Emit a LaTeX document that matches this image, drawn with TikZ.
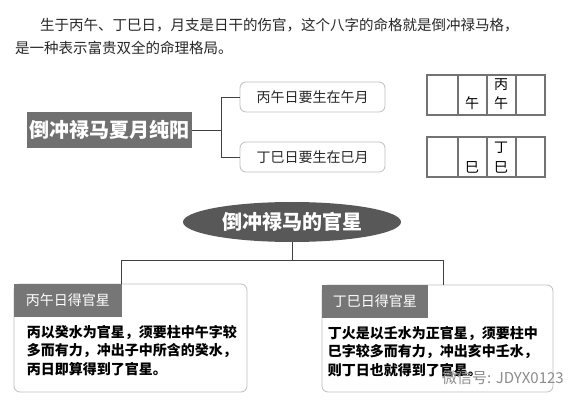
\documentclass[tikz,border=0pt]{standalone}
\usepackage{fontspec}
\setmainfont{Noto Sans CJK SC}
\usepackage{xcolor}
\usepackage{tikz}
\usetikzlibrary{positioning,shapes.geometric,calc}
\definecolor{titlegray}{RGB}{112,112,112}
\definecolor{ovalgray}{RGB}{88,88,88}
\definecolor{headgray}{RGB}{118,118,118}
\definecolor{framegray}{RGB}{190,190,190}
\definecolor{inkgray}{RGB}{40,40,40}
\tikzset{
  introtext/.style={
    inner sep=0pt,
    text=inkgray,
    font=\fontsize{14.5}{16}\selectfont
  },
  titlebox/.style={
    rectangle,
    fill=titlegray,
    text=white,
    minimum width=165pt,
    minimum height=36pt,
    inner sep=0pt,
    font=\fontsize{20}{22}\selectfont\bfseries
  },
  branchbox/.style={
    rectangle,
    rounded corners=6pt,
    draw=framegray,
    thick,
    minimum width=145pt,
    minimum height=30pt,
    inner sep=0pt,
    text=inkgray,
    font=\fontsize{14}{16}\selectfont
  },
  cellline/.style={draw=black!55, line width=1.2pt},
  celltext/.style={
    inner sep=0pt,
    text=black,
    font=\fontsize{14}{16}\selectfont
  },
  ovalbox/.style={
    ellipse,
    fill=ovalgray,
    text=white,
    minimum width=218pt,
    minimum height=40pt,
    inner sep=0pt,
    font=\fontsize{20}{22}\selectfont\bfseries
  },
  noteframe/.style={
    rectangle,
    rounded corners=6pt,
    draw=framegray,
    thick,
    inner sep=0pt
  },
  notehead/.style={
    rectangle,
    fill=headgray,
    text=white,
    minimum height=33pt,
    inner sep=0pt,
    font=\fontsize{14}{16}\selectfont
  },
  notebody/.style={
    inner sep=0pt,
    align=left,
    text=black,
    font=\fontsize{14}{18.5}\selectfont\bfseries
  },
  wmarktext/.style={
    inner sep=0pt,
    text=black!45,
    font=\fontsize{15}{16}\selectfont
  },
  link/.style={thick, black!75}
}

\begin{document}
\begin{tikzpicture}[x=1pt,y=-1pt]
\useasboundingbox[fill=white] (0,0) rectangle (573,406);
% intro
\node[introtext, anchor=west] (intro1) at (40,25) {生于丙午、丁巳日，月支是日干的伤官，这个八字的命格就是倒冲禄马格，};
\node[introtext, anchor=west] (intro2) at (15,48) {是一种表示富贵双全的命理格局。};
% summer month
\node[titlebox] (mbox) at (109.5,130) {倒冲禄马夏月纯阳};
\node[branchbox] (wu) at (312.5,97) {丙午日要生在午月};
\node[branchbox] (si) at (312.5,157) {丁巳日要生在巳月};
\draw[link] (mbox.east) -- ++(29,0) coordinate (fork);
\draw[link] (wu.west) -| (fork) |- (si.west);
% pillars
\foreach \y in {75,137} {
  \draw[cellline] (427,\y) rectangle (545,\y+40);
  \foreach \x in {458,487,516}
    \draw[cellline] (\x,\y) -- (\x,\y+40);
}
\node[celltext] (wu1) at (472,103) {午};
\node[celltext] (wu2) at (501,85) {丙};
\node[celltext] (wu3) at (501,103) {午};
\node[celltext] (si1) at (472,167) {巳};
\node[celltext] (si2) at (501,148) {丁};
\node[celltext] (si3) at (501,167) {巳};
% official star
\node[ovalbox] (oval) at (292,222) {倒冲禄马的官星};
\node[noteframe, minimum width=233pt, minimum height=108pt] (wuframe) at (130.5,338) {};
\node[notehead, minimum width=108pt, anchor=north west] (wuhead) at (wuframe.north west) {丙午日得官星};
\node[notebody, anchor=north west] (wubody) at ($(wuhead.south west)+(13,8)$) {丙以癸水为官星，须要柱中午字较\\多而有力，冲出子中所含的癸水，\\丙日即算得到了官星。};
\node[noteframe, minimum width=231pt, minimum height=107pt] (siframe) at (437.5,338.5) {};
\node[notehead, minimum width=106pt, anchor=north west] (sihead) at (siframe.north west) {丁巳日得官星};
\node[notebody, anchor=north west] (sibody) at ($(sihead.south west)+(6,8)$) {丁火是以壬水为正官星，须要柱中\\巳字较多而有力，冲出亥中壬水，\\则丁日也就得到了官星。};
\coordinate (wujoin) at (121,260);
\coordinate (sijoin) at (443,260);
\draw[link] (oval.south) -- (oval.south |- wujoin);
\draw[link] (wujoin) -- (sijoin);
\draw[link] (wujoin) -- (wujoin |- wuframe.north);
\draw[link] (sijoin) -- (sijoin |- siframe.north);
\node[wmarktext, anchor=west] (wmark) at (442,378) {微信号: JDYX0123};
\end{tikzpicture}
\end{document}
